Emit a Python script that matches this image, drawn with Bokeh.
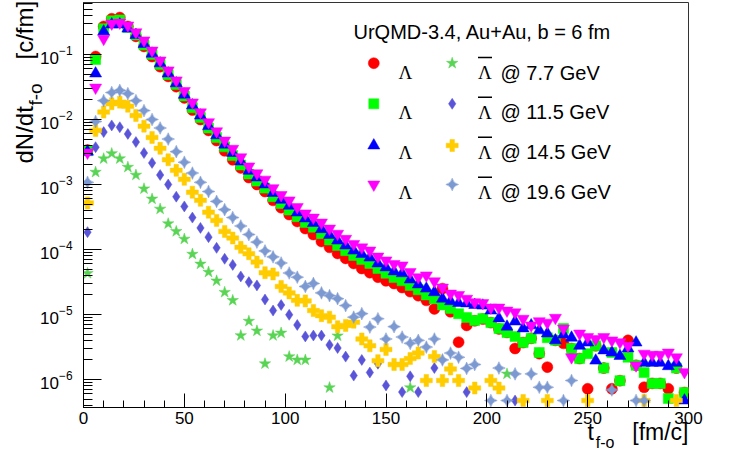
import numpy as np
from bokeh.plotting import figure
from bokeh.models import Range1d, FixedTicker, Label, Title
from bokeh.embed import file_html
from bokeh.resources import INLINE

N = None

# freeze-out time bin centres [fm/c]
t_fo = [2, 6, 10, 14, 18, 22, 26, 30, 34, 38,
        42, 46, 50, 54, 58, 62, 66, 70, 74, 78,
        82, 86, 90, 94, 98, 102, 106, 110, 114, 118,
        122, 126, 130, 134, 138, 142, 146, 150, 154, 158,
        162, 166, 170, 174, 178, 182, 186, 190, 194, 198,
        202, 206, 210, 214, 218, 222, 226, 230, 234, 238,
        242, 246, 250, 254, 258, 262, 266, 270, 274, 278,
        282, 286, 290, 294, 298]

# dN/dt_fo [c/fm]  -- Lambda
lam_77 = [3.4e-3, 9.3e-2, 0.27, 0.355, 0.37, 0.27, 0.19, 0.133, 0.093, 0.065,
          0.046, 0.032, 0.0215, 0.014, 0.010, 6.8e-3, 4.75e-3, 3.3e-3, 2.4e-3, 1.8e-3,
          1.28e-3, 1.0e-3, 7.8e-4, 5.7e-4, 4.4e-4, 3.45e-4, 2.7e-4, 2.1e-4, 1.7e-4, 1.33e-4,
          1.08e-4, 8.7e-5, 7.3e-5, 6.1e-5, 5.1e-5, 4.4e-5, 3.75e-5, 3.3e-5, 3.0e-5, 2.6e-5,
          2.25e-5, 1.95e-5, 1.65e-5, 1.22e-5, 2.5e-5, 1.1e-5, 3.75e-6, 6.8e-6, 8.0e-6, 8.5e-6,
          7.5e-6, 6.0e-6, 5.3e-6, 3.0e-6, 3.7e-6, 4.3e-6, 2.5e-6, 1.55e-6, 4.0e-6, 3.6e-6,
          3.0e-6, 2.1e-6, 7.2e-7, 3.3e-6, 1.5e-6, 7.2e-7, 9.6e-7, 4.0e-6, 1.65e-6, 7.6e-7,
          8.7e-7, 8.7e-7, 7.2e-7, 1.5e-6, 6.3e-7]
lam_115 = [3.3e-3, 0.084, 0.25, 0.33, 0.34, 0.26, 0.20, 0.14, 0.10, 0.070,
           0.049, 0.0345, 0.023, 0.0152, 0.0107, 7.4e-3, 5.3e-3, 3.8e-3, 2.8e-3, 2.0e-3,
           1.45e-3, 1.13e-3, 8.8e-4, 6.5e-4, 5.1e-4, 4.05e-4, 3.2e-4, 2.6e-4, 2.2e-4, 1.75e-4,
           1.4e-4, 1.15e-4, 9.6e-5, 8.1e-5, 7.0e-5, 6.1e-5, 5.1e-5, 4.3e-5, 3.7e-5, 3.3e-5,
           2.8e-5, 2.4e-5, 2.0e-5, 1.75e-5, 1.4e-5, 1.24e-5, 1.03e-5, 9.0e-6, 8.1e-6, 8.7e-6,
           7.5e-6, 6.1e-6, 5.3e-6, 4.6e-6, 3.7e-6, 4.3e-6, 2.6e-6, 4.4e-6, 4.0e-6, 6.1e-6,
           3.0e-6, 2.1e-6, 2.5e-6, 3.3e-6, 1.5e-6, 2.6e-6, 9.6e-7, 2.2e-6, 1.65e-6, 1.28e-6,
           8.7e-7, 8.7e-7, 5.1e-7, 1.5e-6, 6.3e-7]
lam_145 = [3.2e-3, 0.051, 0.225, 0.29, 0.29, 0.25, 0.20, 0.145, 0.103, 0.073,
           0.051, 0.036, 0.024, 0.0165, 0.0115, 7.9e-3, 5.7e-3, 4.1e-3, 3.05e-3, 2.25e-3,
           1.62e-3, 1.28e-3, 1.0e-3, 7.4e-4, 5.8e-4, 4.7e-4, 3.7e-4, 3.0e-4, 2.55e-4, 2.05e-4,
           1.67e-4, 1.37e-4, 1.15e-4, 9.6e-5, 8.5e-5, 7.5e-5, 6.1e-5, 5.3e-5, 4.6e-5, 4.3e-5,
           3.45e-5, 2.9e-5, 2.5e-5, 2.2e-5, 1.75e-5, 1.6e-5, 1.5e-5, 1.48e-5, 1.4e-5, 1.37e-5,
           1.15e-5, 8.7e-6, 6.5e-6, 7.8e-6, 6.1e-6, 6.8e-6, 5.7e-6, 5.1e-6, 4.0e-6, 4.9e-6,
           4.4e-6, 3.3e-6, 3.7e-6, 1.95e-6, 2.8e-6, 2.6e-6, 2.3e-6, 3.0e-6, 3.7e-6, 1.8e-6,
           1.8e-6, 1.8e-6, 1.6e-6, 1.8e-6, 4.75e-7]
lam_196 = [3.1e-3, 0.031, 0.175, 0.30, 0.31, 0.28, 0.22, 0.165, 0.115, 0.081,
           0.057, 0.040, 0.0275, 0.0183, 0.0129, 9.1e-3, 6.6e-3, 4.75e-3, 3.55e-3, 2.63e-3,
           1.9e-3, 1.49e-3, 1.19e-3, 8.8e-4, 6.9e-4, 5.7e-4, 4.5e-4, 3.6e-4, 3.1e-4, 2.6e-4,
           2.1e-4, 1.75e-4, 1.46e-4, 1.22e-4, 1.08e-4, 9.65e-5, 7.8e-5, 6.8e-5, 6.0e-5, 5.7e-5,
           4.5e-5, 3.75e-5, 4.0e-5, 3.25e-5, 2.6e-5, 2.1e-5, 2.0e-5, 1.75e-5, 1.55e-5, 1.5e-5,
           1.28e-5, 1.28e-5, 1.15e-5, 1.08e-5, 8.6e-6, 6.8e-6, 7.9e-6, 7.5e-6, 8.9e-6, 6.1e-6,
           2.2e-6, 5.1e-6, 4.5e-6, 4.2e-6, 4.5e-6, 4.0e-6, 3.75e-6, 3.3e-6, 1.65e-6, 2.5e-6,
           2.4e-6, 2.4e-6, 2.6e-6, 2.2e-6, 1.3e-6]

# dN/dt_fo [c/fm]  -- anti-Lambda (None = empty bin)
alam_77 = [4.3e-5, 1.55e-3, 2.5e-3, 3.0e-3, 2.5e-3, 1.85e-3, 1.4e-3, 8.6e-4, 6.0e-4, 4.2e-4,
           2.5e-4, 1.9e-4, 1.45e-4, 8.5e-5, 6.0e-5, 4.5e-5, 3.3e-5, 2.2e-5, 1.65e-5, 4.75e-6,
           7.9e-6, 5.6e-6, 1.75e-6, 4.75e-6, 5.2e-6, 2.25e-6, 2.0e-6, 2.0e-6, N, N,
           7.5e-7, 4.7e-6, N, N, N, N, N, N, N, N,
           7.5e-7, N, N, N, N, N, N, N, N, N,
           N, N, 1.22e-6, N, N, N, N, N, N, N,
           N, N, N, N, N, N, N, N, N, N,
           N, N, N, N, N]
alam_115 = [1.85e-4, 3.75e-3, 6.4e-3, 8.1e-3, 7.6e-3, 6.0e-3, 4.5e-3, 3.05e-3, 2.15e-3, 1.4e-3,
            1.0e-3, 6.5e-4, 4.6e-4, 3.1e-4, 2.15e-4, 1.55e-4, 1.06e-4, 7.2e-5, 5.8e-5, 3.85e-5,
            3.15e-5, 2.8e-5, 1.7e-5, 1.15e-5, 1.4e-5, 9.9e-6, 6.9e-6, 4.6e-6, 4.75e-6, 4.75e-6,
            3.4e-6, 3.05e-6, 2.25e-6, 1.15e-6, 2.0e-6, 1.28e-6, 1.75e-6, 8.1e-7, N, 6.4e-7,
            1.12e-6, 6.4e-7, N, 1.5e-6, N, N, N, 6.4e-7, N, N,
            N, N, N, 4.75e-7, N, N, N, N, N, N,
            N, N, N, N, N, N, N, N, N, N,
            N, N, N, N, N]
alam_145 = [5.2e-4, 6.8e-3, 1.3e-2, 1.75e-2, 1.85e-2, 1.6e-2, 1.15e-2, 7.9e-3, 5.3e-3, 3.6e-3,
            2.4e-3, 1.65e-3, 1.2e-3, 7.6e-4, 5.7e-4, 3.75e-4, 2.8e-4, 1.9e-4, 1.5e-4, 1.08e-4,
            8.6e-5, 6.4e-5, 4.4e-5, 4.2e-5, 2.7e-5, 2.15e-5, 1.65e-5, 1.62e-5, 1.15e-5, 9.6e-6,
            9.1e-6, 6.5e-6, 6.8e-6, 7.6e-6, 4.2e-6, 3.3e-6, 1.95e-6, 2.9e-6, 1.7e-6, 1.7e-6,
            2.1e-6, 2.55e-6, 9.65e-7, 2.25e-6, 9.65e-7, 1.45e-6, 9.65e-7, N, 7.4e-7, N,
            9.65e-7, 7.4e-7, N, N, 4.75e-7, N, N, 4.75e-7, N, N,
            N, N, 4.75e-7, N, N, N, N, N, N, 4.75e-7,
            N, N, N, 4.75e-7, N]
alam_196 = [1.08e-3, 9.3e-3, 1.95e-2, 2.6e-2, 2.8e-2, 2.5e-2, 1.95e-2, 1.37e-2, 1.0e-2, 7.4e-3,
            5.0e-3, 3.2e-3, 2.2e-3, 1.5e-3, 1.08e-3, 7.8e-4, 5.5e-4, 4.1e-4, 3.1e-4, 2.3e-4,
            1.7e-4, 1.3e-4, 9.5e-5, 7.7e-5, 6.2e-5, 4.35e-5, 3.75e-5, 2.7e-5, 3.0e-5, 2.15e-5,
            1.95e-5, 1.75e-5, 1.37e-5, 9.1e-6, 1.03e-5, 6.4e-6, 8.6e-6, 4.2e-6, 6.5e-6, 4.5e-6,
            3.6e-6, 4.0e-6, 3.15e-6, 4.2e-6, 2.0e-6, 2.55e-6, 2.2e-6, 1.48e-6, 1.7e-6, N,
            4.75e-7, 1.5e-6, 4.75e-7, 1.22e-6, N, 1.22e-6, 7.6e-7, 7.6e-7, N, 4.75e-7,
            9.65e-7, N, N, N, N, 6.9e-7, N, N, 4.75e-7, 4.75e-7,
            N, N, N, N, N]

energies = ["7.7", "11.5", "14.5", "19.6"]
x_ticks = [0, 50, 100, 150, 200, 250, 300]
y_ticks = [1e-6, 1e-5, 1e-4, 1e-3, 1e-2, 1e-1]

# ---------------- layout (canvas pixels) ----------------
FRAME_L, FRAME_R, FRAME_T, FRAME_B = 83, 688, 2, 407
X_START, X_END = 0.0, 300.0
Y_START, Y_END = 3.709e-7, 0.631
W, H = 717, 450
NB = "\u00a0"


def px_x(px):
    return X_START + (px - FRAME_L) / (FRAME_R - FRAME_L) * (X_END - X_START)


def px_y(py):
    lo, hi = np.log10(Y_START), np.log10(Y_END)
    return 10 ** (hi - (py - FRAME_T) / (FRAME_B - FRAME_T) * (hi - lo))


p = figure(width=W, height=H, y_axis_type="log",
           x_range=Range1d(X_START, X_END), y_range=Range1d(Y_START, Y_END),
           output_backend="svg", toolbar_location=None,
           min_border_left=FRAME_L, min_border_right=W - FRAME_R,
           min_border_top=FRAME_T, min_border_bottom=H - FRAME_B)
p.xgrid.visible = False
p.ygrid.visible = False
p.background_fill_color = "white"
p.border_fill_color = "white"
p.outline_line_color = "#333333"
p.outline_line_width = 1

minor_y = []
for e in range(-7, 0):
    for m in range(2, 10):
        minor_y.append(m * 10.0 ** e)
p.yaxis.ticker = FixedTicker(ticks=y_ticks, minor_ticks=minor_y)
p.xaxis.ticker = FixedTicker(ticks=x_ticks, minor_ticks=list(range(0, 301, 10)))

for ax in (p.xaxis[0], p.yaxis[0]):
    ax.axis_line_color = "black"
    ax.major_tick_line_color = "black"
    ax.minor_tick_line_color = "black"
    ax.major_tick_out = 0
    ax.minor_tick_out = 0
    ax.major_label_text_font = "Liberation Sans"
    ax.major_label_text_font_size = "17px"
    ax.major_label_text_color = "black"
p.yaxis.major_tick_in = 18
p.yaxis.minor_tick_in = 9
p.xaxis.major_tick_in = 14
p.xaxis.minor_tick_in = 7
p.yaxis.major_label_standoff = 11
p.xaxis.major_label_standoff = 4

styles = {
    "lam_77": dict(marker="circle", size=11, color="#ff0000"),
    "alam_77": dict(marker="star", size=12, color="#59d454"),
    "lam_115": dict(marker="square", size=10, color="#00ff00"),
    "alam_115": dict(marker="diamond", size=11, color="#5954d8"),
    "lam_145": dict(marker="triangle", size=12, color="#0000ff"),
    "alam_145": dict(marker="plus", size=12, color="#ffcc00"),
    "lam_196": dict(marker="inverted_triangle", size=12, color="#ff00ff"),
    "alam_196": dict(marker="square_pin", size=9, color="#7d99d1", angle=np.pi / 4),
}
series = {"lam_77": lam_77, "alam_77": alam_77, "lam_115": lam_115, "alam_115": alam_115,
          "lam_145": lam_145, "alam_145": alam_145, "lam_196": lam_196, "alam_196": alam_196}

t_arr = np.array(t_fo, dtype=float)
for name, vals in series.items():
    st = dict(styles[name])
    col = st.pop("color")
    y = np.array(vals, dtype=float)
    p.scatter(t_arr, y, fill_color=col, line_color=col, line_width=0.5, **st)


def lab(px, py, text, size, font="Liberation Sans", align="left", angle=0.0):
    p.add_layout(Label(x=px_x(px), y=px_y(py), text=text, text_font=font,
                       text_font_size=f"{size}px", text_align=align,
                       text_baseline="alphabetic", angle=angle, text_color="black"))


def side_title(text, side, size, align, offset, standoff, valign):
    t = Title(text=text, align=align, offset=offset, vertical_align=valign,
              text_font="Liberation Sans", text_font_size=f"{size}px",
              text_font_style="normal", text_color="black")
    try:
        t.standoff = standoff
    except Exception:
        t.standoff = 0
    p.add_layout(t, side)


# ---------------- axis titles (in the side panels) ----------------
side_title("t" + NB * 6 + "[fm/c]", "below", 23, "right", 0, -15, "top")
side_title("f-o", "below", 16, "right", 74, -12, "top")
side_title("f-o", "left", 19, "left", FRAME_B - 105, -17, "bottom")
side_title("dN/dt" + NB * 7 + "[c/fm]", "left", 24, "left", FRAME_B - 163, -12, "bottom")

# ---------------- legend ----------------
lab(353, 31, "UrQMD-3.4, Au+Au, b = 6 fm", 20)
row_c = [62.7, 103.3, 145.0, 184.0]
row_b = [72.0, 111.7, 151.7, 191.7]
lam_names = ["lam_77", "lam_115", "lam_145", "lam_196"]
alam_names = ["alam_77", "alam_115", "alam_145", "alam_196"]
for i, e in enumerate(energies):
    for mx, nm in ((373.3, lam_names[i]), (451.7, alam_names[i])):
        st = dict(styles[nm])
        col = st.pop("color")
        p.scatter([px_x(mx)], [px_y(row_c[i])], fill_color=col, line_color=col,
                  line_width=0.5, **st)
    lab(405, row_b[i], "Λ", 19, font="Liberation Serif", align="center")
    lab(484.5, row_b[i], "Λ", 19, font="Liberation Serif", align="center")
    p.segment(x0=[px_x(477.5)], y0=[px_y(row_b[i] - 15)], x1=[px_x(491.5)],
              y1=[px_y(row_b[i] - 15)], line_color="black", line_width=1.5)
    lab(500, row_b[i], f"@ {e} GeV", 20)

open("out.html", "w").write(file_html(p, INLINE))
